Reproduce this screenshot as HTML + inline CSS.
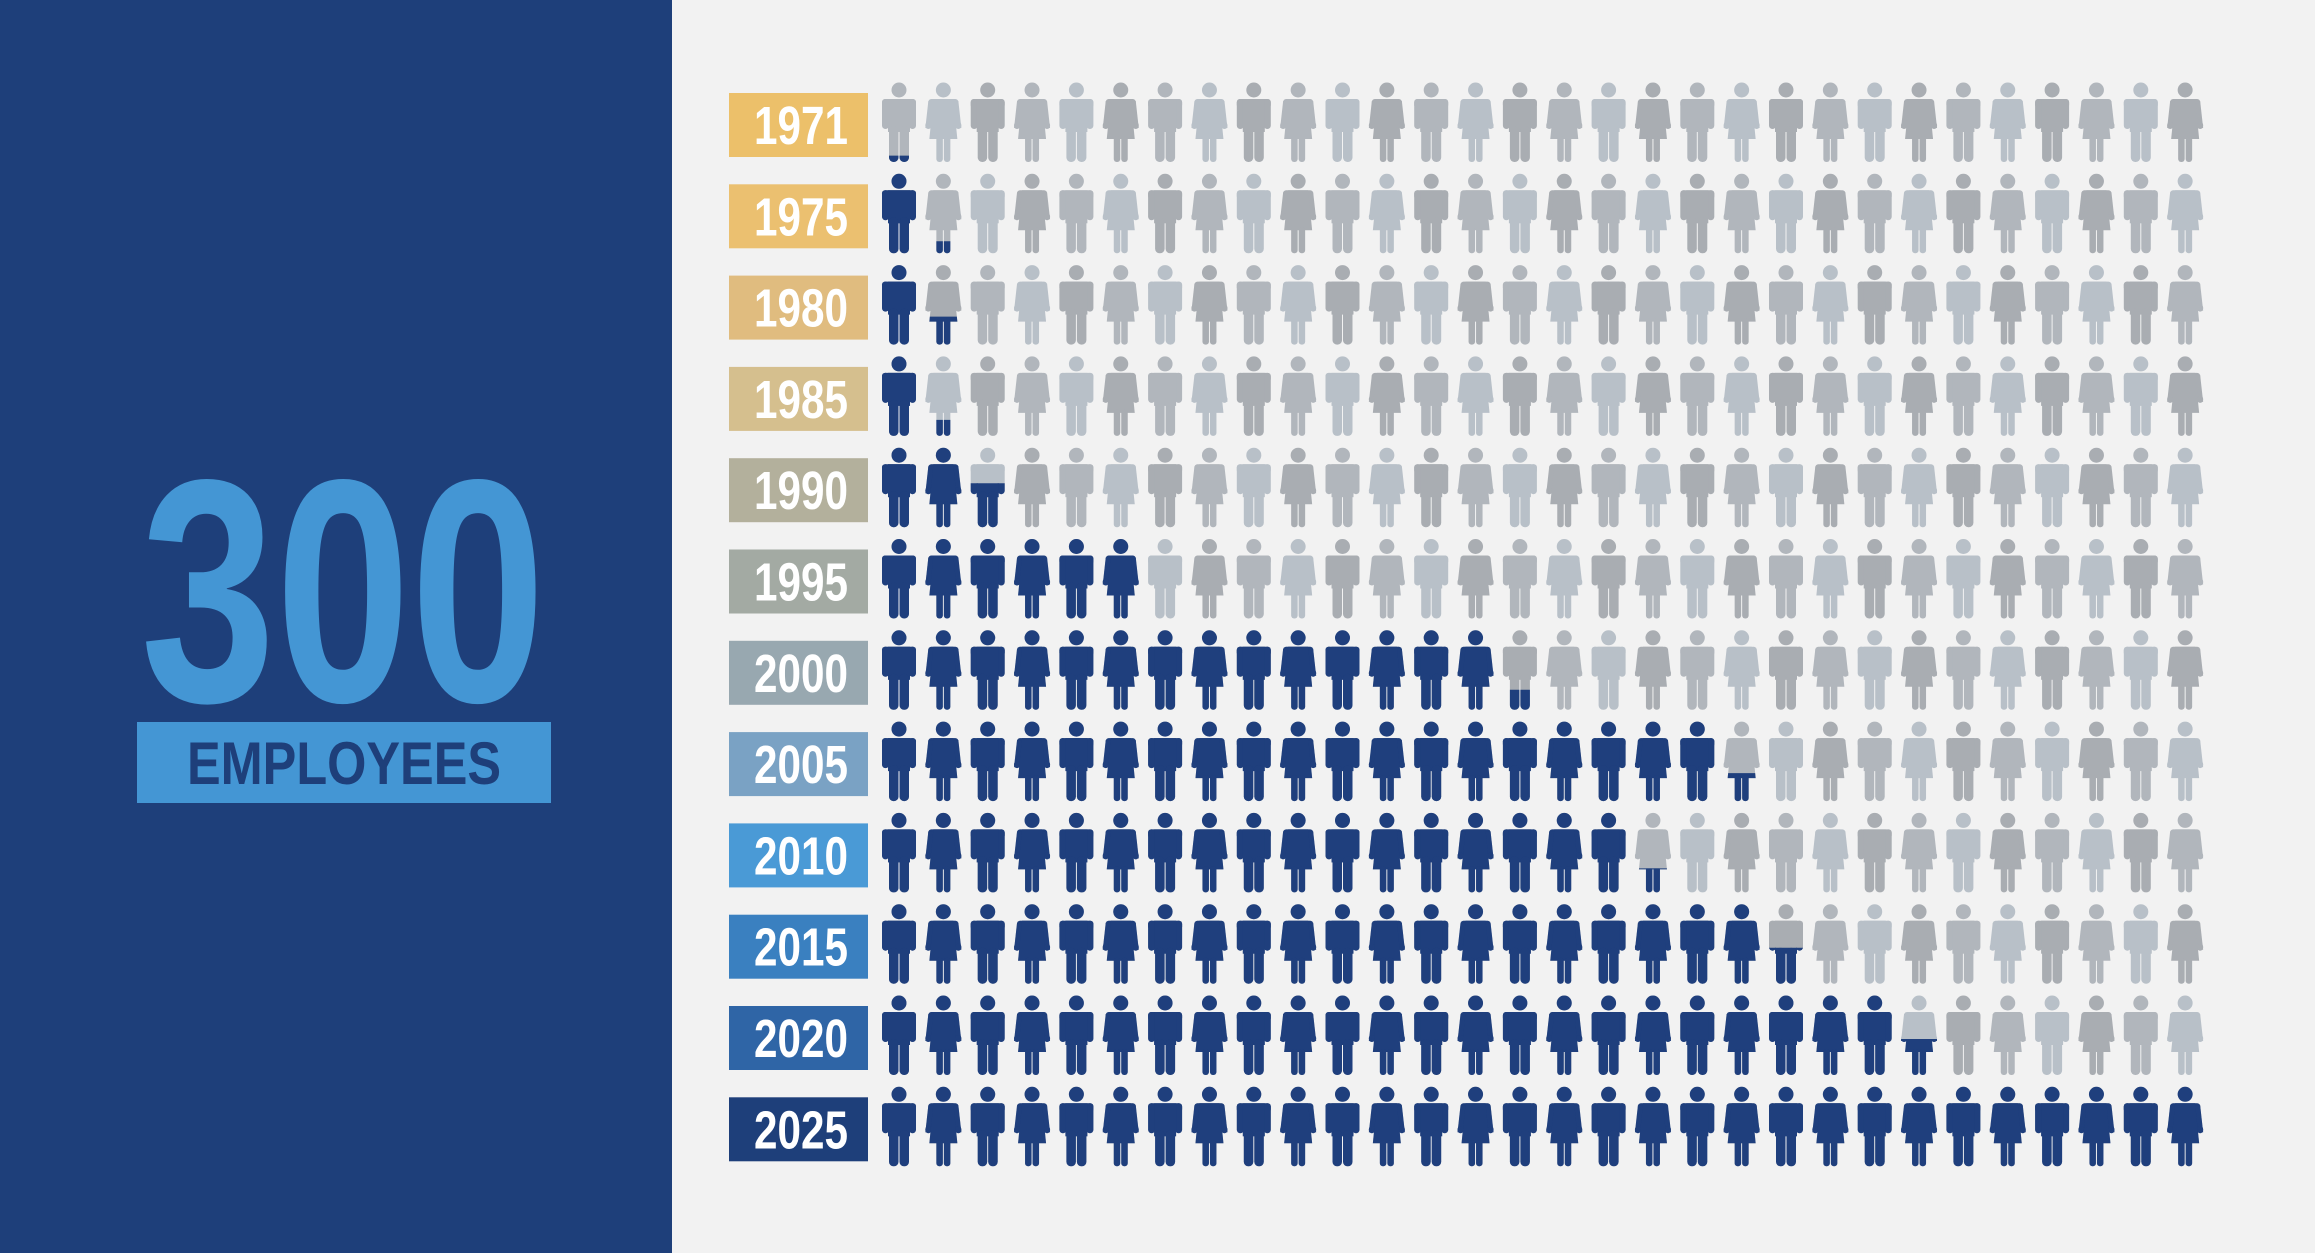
<!DOCTYPE html>
<html><head><meta charset="utf-8"><style>
html,body{margin:0;padding:0;width:2315px;height:1253px;overflow:hidden;background:#f2f2f2}
svg{display:block}
</style></head><body>
<svg id="chart" width="2315" height="1253" viewBox="0 0 2315 1253" xmlns="http://www.w3.org/2000/svg" xmlns:xlink="http://www.w3.org/1999/xlink">
<defs>
<g id="male">
<circle cx="17" cy="8" r="7.5"/>
<rect x="0" y="17" width="34" height="9" rx="3"/>
<rect x="0" y="17" width="7" height="30" rx="3.5"/>
<rect x="27" y="17" width="7" height="30" rx="3.5"/>
<rect x="6" y="17" width="22" height="33"/>
<rect x="7" y="44" width="9.5" height="36" rx="4.5"/>
<rect x="17.5" y="44" width="9.5" height="36" rx="4.5"/>
</g>
<g id="female">
<circle cx="17" cy="8" r="7.5"/>
<rect x="2" y="17" width="30" height="8" rx="3"/>
<polygon points="2,19 8,19 5,46 -1,46"/>
<polygon points="26,19 32,19 35,46 29,46"/>
<rect x="-1" y="40" width="6" height="7" rx="3"/>
<rect x="29" y="40" width="6" height="7" rx="3"/>
<polygon points="7,17 27,17 31,57 3,57"/>
<rect x="10" y="54" width="6.5" height="26" rx="3"/>
<rect x="17.5" y="54" width="6.5" height="26" rx="3"/>
</g>
</defs>
<rect x="0" y="0" width="672" height="1253" fill="#1e3f7a"/>
<text x="343" y="701" text-anchor="middle" font-family="'Liberation Sans Narrow','Liberation Sans',sans-serif" font-weight="bold" font-size="318" fill="#4496d4" textLength="405" lengthAdjust="spacingAndGlyphs">300</text>
<rect x="137" y="722" width="414" height="81" fill="#4496d4"/>
<text x="344" y="784" text-anchor="middle" font-family="'Liberation Sans Narrow','Liberation Sans',sans-serif" font-weight="bold" font-size="60" fill="#1e3f7a" textLength="314" lengthAdjust="spacingAndGlyphs">EMPLOYEES</text>
<g id="rows"></g>
</svg>
<script>
const years = ['1971','1975','1980','1985','1990','1995','2000','2005','2010','2015','2020','2025'];
const iconsFilled = [0.08, 1.15, 1.35, 1.2, 2.55, 6, 14.25, 19.35, 17.3, 20.45, 23.45, 30];
const labelColors = ['#ecc06a','#ebc070','#e0bc7f','#d5bf8e','#b3b09c','#a3aaa3','#98a8b0','#7aa2c4','#4a9ad6','#3a80c0','#2f65a6','#1e3f7a'];
const totalIcons = 30;
const NS='http://www.w3.org/2000/svg';
const XL='http://www.w3.org/1999/xlink';
const rowsG=document.getElementById('rows');
const x0=882, dx=44.35, y0=93, dy=91.3;
const grays=['#b1b6bc','#a9adb2','#b8c0c8'];
function rowY(i){return y0+i*dy;}
function colX(j){return x0+j*dx;}
function mkUse(shape,x,y,fill){
  const u=document.createElementNS(NS,'use');
  u.setAttribute('href',shape);
  u.setAttributeNS(XL,'xlink:href',shape);
  u.setAttribute('x',x);u.setAttribute('y',y);
  u.setAttribute('fill',fill);
  return u;
}
years.forEach((yr,i)=>{
  const y=rowY(i);
  const g=document.createElementNS(NS,'g');
  
  
  const r=document.createElementNS(NS,'rect');
  r.setAttribute('x',729);r.setAttribute('y',y);r.setAttribute('width',139);r.setAttribute('height',64);
  r.setAttribute('fill',labelColors[i]);
  
  
  g.appendChild(r);
  const t=document.createElementNS(NS,'text');
  t.setAttribute('x',801);t.setAttribute('y',y+51);t.setAttribute('text-anchor','middle');
  t.setAttribute('font-family',"'Liberation Sans Narrow','Liberation Sans',sans-serif");
  t.setAttribute('font-weight','bold');t.setAttribute('font-size','54');t.setAttribute('fill','#ffffff');
  t.setAttribute('textLength','94');t.setAttribute('lengthAdjust','spacingAndGlyphs');
  
  
  t.textContent=yr;g.appendChild(t);
  const iy=y-11;
  for(let j=0;j<totalIcons;j++){
    const shape=j%2===0?'#male':'#female';
    const ix=colX(j);
    const frac=Math.max(0,Math.min(1,iconsFilled[i]-j));
    const ic=document.createElementNS(NS,'g');
    
    
    ic.appendChild(mkUse(shape,ix,iy,grays[(j*2+i)%3]));
    if(frac>0){
      const h=80*frac;
      const sv=document.createElementNS(NS,'svg');
      sv.setAttribute('x',ix-3);sv.setAttribute('y',iy+80-h);
      sv.setAttribute('width',42);sv.setAttribute('height',h+1);
      sv.setAttribute('overflow','hidden');
      sv.appendChild(mkUse(shape,3,h-80,'#1f3f7d'));
      ic.appendChild(sv);
    }
    g.appendChild(ic);
  }
  rowsG.appendChild(g);
});
</script>
</body></html>
